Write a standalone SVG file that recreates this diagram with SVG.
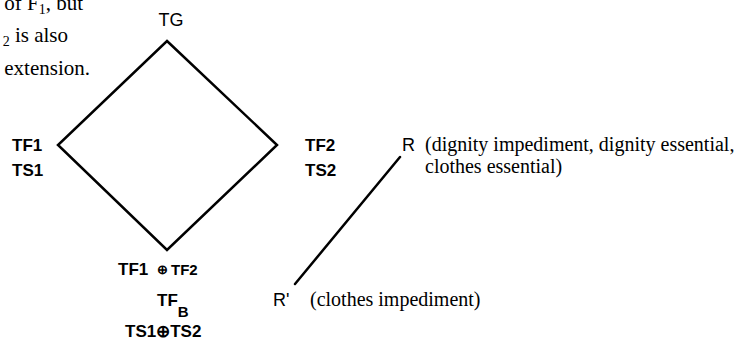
<svg xmlns="http://www.w3.org/2000/svg" width="742" height="345" viewBox="0 0 742 345">
<style>
.serif{font-family:"Liberation Serif","Times New Roman",serif;font-size:20px;fill:#000}
.body{font-family:"Liberation Serif","Times New Roman",serif;font-size:21px;fill:#000}
.lbl{font-family:"Liberation Sans",Arial,sans-serif;font-size:18px;fill:#000}
.bl{font-family:"Liberation Sans",Arial,sans-serif;font-size:17px;font-weight:bold;fill:#000}
.sm{font-size:15px}
.op{font-size:13px}
.edge{fill:none;stroke:#000;stroke-width:2.5;stroke-linecap:round;stroke-linejoin:miter}
</style>
<rect width="742" height="345" fill="#fff"/>
<g id="page-text">
<text class="body" x="83" y="10" text-anchor="end">of F<tspan font-size="14" dy="4">1</tspan><tspan dy="-4">, but</tspan></text>
<text class="body" x="68" y="42" text-anchor="end"><tspan font-size="14" dy="4">2</tspan><tspan dy="-4"> is also</tspan></text>
<text class="body" x="90" y="75" text-anchor="end">extension.</text>
</g>
<g id="connectors">
<polygon class="edge" points="167,41 277,145 167,250 58,145"/>
<line class="edge" x1="400" y1="157" x2="295" y2="284"/>
</g>
<g id="node-TG"><text class="lbl" x="171" y="26" text-anchor="middle">TG</text></g>
<g id="node-TF1">
<text class="bl" x="12" y="151">TF1</text>
<text class="bl" x="12" y="176">TS1</text>
</g>
<g id="node-TF2">
<text class="bl" x="305" y="151">TF2</text>
<text class="bl" x="305" y="176">TS2</text>
</g>
<g id="node-TFB">
<text class="bl" x="118" y="275">TF1</text>
<text class="bl op" x="157" y="274">⊕</text>
<text class="bl sm" x="171" y="275">TF2</text>
<text class="bl" x="157" y="306">TF<tspan font-size="15" dy="11">B</tspan></text>
<text class="bl" x="125" y="337">TS1⊕TS2</text>
</g>
<g id="node-R">
<text class="lbl" x="402" y="151">R</text>
<text class="serif" x="425" y="151">(dignity impediment, dignity essential,</text>
<text class="serif" x="425" y="173">clothes essential)</text>
</g>
<g id="node-Rprime">
<text class="lbl" x="273" y="306">R'</text>
<text class="serif" x="310" y="306">(clothes impediment)</text>
</g>
</svg>
